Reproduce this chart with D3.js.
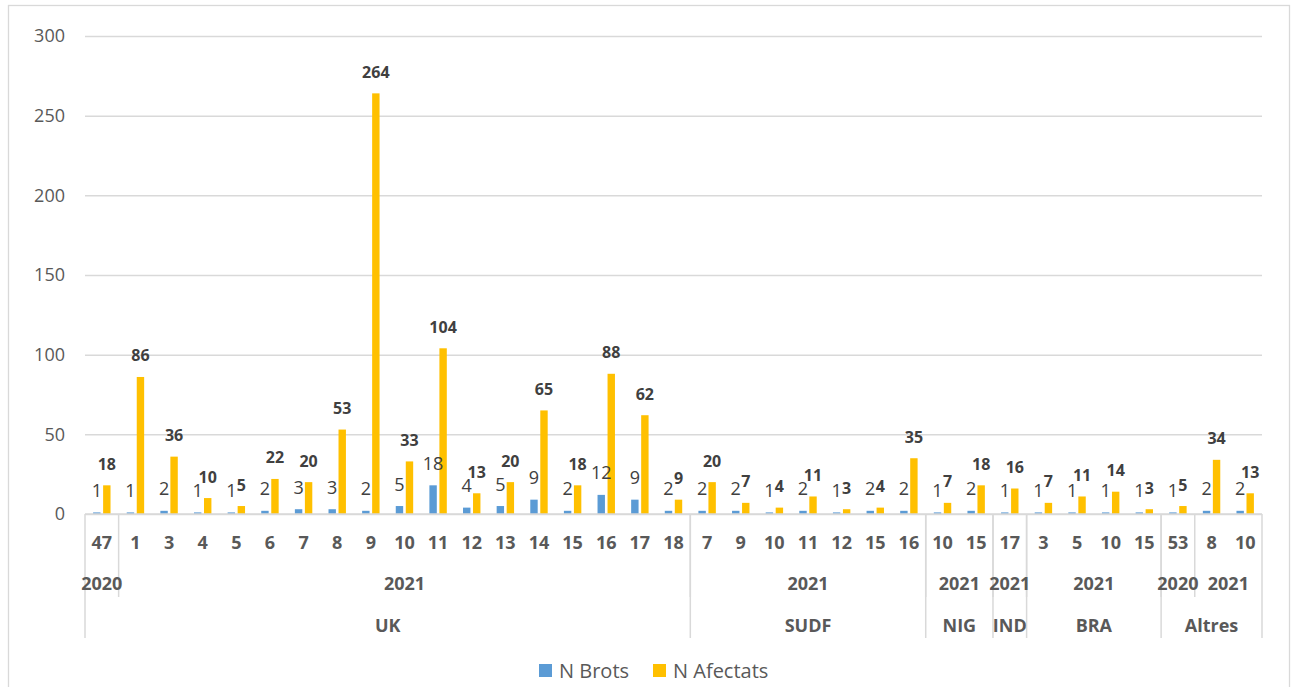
<!DOCTYPE html>
<html>
<head>
<meta charset="utf-8">
<script src="https://cdn.jsdelivr.net/npm/d3@7"></script>
<style>
  body { margin: 0; background: #fff; }
  svg { display: block; font-family: "Open Sans", sans-serif; }
</style>
</head>
<body>
<script>
'use strict';
// category levels, one entry per bar group
const weeks = ["47","1","3","4","5","6","7","8","9","10","11","12","13","14","15","16","17","18",
  "7","9","10","11","12","15","16",
  "10","15",
  "17",
  "3","5","10","15",
  "53","8","10"];
const years = ["2020","2021","2021","2021","2021","2021","2021","2021","2021","2021","2021","2021","2021","2021","2021","2021","2021","2021",
  "2021","2021","2021","2021","2021","2021","2021",
  "2021","2021",
  "2021",
  "2021","2021","2021","2021",
  "2020","2021","2021"];
const variants = ["UK","UK","UK","UK","UK","UK","UK","UK","UK","UK","UK","UK","UK","UK","UK","UK","UK","UK",
  "SUDF","SUDF","SUDF","SUDF","SUDF","SUDF","SUDF",
  "NIG","NIG",
  "IND",
  "BRA","BRA","BRA","BRA",
  "Altres","Altres","Altres"];
const nBrots = [1,1,2,1,1,2,3,3,2,5,18,4,5,9,2,12,9,2,
  2,2,1,2,1,2,2,
  1,2,
  1,
  1,1,1,1,
  1,2,2];
const nAfectats = [18,86,36,10,5,22,20,53,264,33,104,13,20,65,18,88,62,9,
  20,7,4,11,3,4,35,
  7,18,
  16,
  7,11,14,3,
  5,34,13];
const seriesNames = ["N Brots", "N Afectats"];
const yTicks = [0, 50, 100, 150, 200, 250, 300];

(function () {
  const W = 1297, H = 687;
  const left = 85, right = 1262, top = 36, base = 514;
  const colors = ["#5B9BD5", "#FFC000"];
  const grid = "#d9d9d9";
  const values = [nBrots, nAfectats];

  const svg = d3.select("body").append("svg")
    .attr("width", W).attr("height", H);

  // outer chart frame
  svg.append("rect")
    .attr("x", 8.5).attr("y", 5.5)
    .attr("width", 1281).attr("height", 720)
    .attr("fill", "#fff").attr("stroke", grid).attr("stroke-width", 1.3);

  const y = d3.scaleLinear().domain([0, 300]).range([base, top]);
  const x0 = d3.scaleBand().domain(d3.range(weeks.length)).range([left, right]);
  const bw = x0.bandwidth();
  const x1 = d3.scaleBand().domain(d3.range(2))
    .range([bw * 0.241, bw * 0.759]).paddingInner(0.26);

  // gridlines + y tick labels
  const yAxis = d3.axisLeft(y).tickValues(yTicks).tickSize(-(right - left)).tickPadding(20);
  const ga = svg.append("g").attr("transform", `translate(${left},0)`).call(yAxis);
  ga.select(".domain").remove();
  ga.selectAll(".tick line").attr("stroke", grid).attr("stroke-width", 1.5);
  ga.selectAll(".tick text")
    .attr("fill", "#595959").attr("font-size", 18)
    .attr("font-family", "Open Sans, sans-serif");

  // bars
  const groups = svg.append("g").selectAll("g")
    .data(d3.range(weeks.length)).enter().append("g")
    .attr("transform", i => `translate(${x0(i)},0)`);

  groups.selectAll("rect")
    .data(i => [0, 1].map(s => ({ s: s, v: values[s][i] })))
    .enter().append("rect")
    .attr("x", d => x1(d.s))
    .attr("width", x1.bandwidth())
    .attr("y", d => y(d.v))
    .attr("height", d => base - y(d.v))
    .attr("fill", d => colors[d.s]);

  groups.selectAll("text")
    .data(i => [0, 1].map(s => ({ s: s, v: values[s][i] })))
    .enter().append("text")
    .attr("x", d => x1(d.s) + x1.bandwidth() / 2)
    .attr("y", d => y(d.v) - 15.5)
    .attr("text-anchor", "middle")
    .attr("fill", "#404040")
    .attr("font-size", d => d.s === 0 ? 18 : 16)
    .attr("font-weight", d => d.s === 0 ? "normal" : "bold")
    .text(d => d.v);

  // category axis baseline
  svg.append("line")
    .attr("x1", left).attr("x2", right).attr("y1", base).attr("y2", base)
    .attr("stroke", grid).attr("stroke-width", 1.5);

  // week labels
  svg.append("g").selectAll("text")
    .data(weeks).enter().append("text")
    .attr("x", (d, i) => x0(i) + bw / 2)
    .attr("y", 548.5)
    .attr("text-anchor", "middle")
    .attr("fill", "#595959").attr("font-size", 18).attr("font-weight", "bold")
    .text(d => d);

  // runs of consecutive equal keys
  function runs(keyFn) {
    const out = [];
    weeks.forEach((w, i) => {
      const k = keyFn(i);
      const last = out[out.length - 1];
      if (last && last.key === k) last.end = i;
      else out.push({ key: k, start: i, end: i, label: k.split("|").pop() });
    });
    return out;
  }
  const yearRuns = runs(i => variants[i] + "|" + years[i]);
  const varRuns = runs(i => variants[i]);

  const sep = svg.append("g").attr("stroke", grid).attr("stroke-width", 1.5);
  // year separators (inside a variant)
  yearRuns.forEach(r => {
    if (r.start > 0) {
      sep.append("line")
        .attr("x1", x0(r.start)).attr("x2", x0(r.start))
        .attr("y1", base).attr("y2", 597);
    }
  });
  // variant separators, full height
  varRuns.forEach(r => {
    sep.append("line")
      .attr("x1", x0(r.start)).attr("x2", x0(r.start))
      .attr("y1", base).attr("y2", 638);
  });
  sep.append("line")
    .attr("x1", right).attr("x2", right)
    .attr("y1", base).attr("y2", 638);

  const spanMid = r => (x0(r.start) + x0(r.end) + bw) / 2;

  svg.append("g").selectAll("text")
    .data(yearRuns).enter().append("text")
    .attr("x", spanMid).attr("y", 589.5)
    .attr("text-anchor", "middle")
    .attr("fill", "#595959").attr("font-size", 18).attr("font-weight", "bold")
    .text(d => d.label);

  svg.append("g").selectAll("text")
    .data(varRuns).enter().append("text")
    .attr("x", spanMid).attr("y", 631.5)
    .attr("text-anchor", "middle")
    .attr("fill", "#595959").attr("font-size", 18).attr("font-weight", "bold")
    .text(d => d.label);

  // legend
  const legX = [539, 653];
  const leg = svg.append("g").selectAll("g")
    .data(seriesNames).enter().append("g")
    .attr("transform", (d, i) => `translate(${legX[i]},664)`);
  leg.append("rect")
    .attr("width", 13).attr("height", 13)
    .attr("fill", (d, i) => colors[i]);
  leg.append("text")
    .attr("x", 20).attr("y", 13.5)
    .attr("fill", "#595959").attr("font-size", 20)
    .text(d => d);
})();
</script>
</body>
</html>
